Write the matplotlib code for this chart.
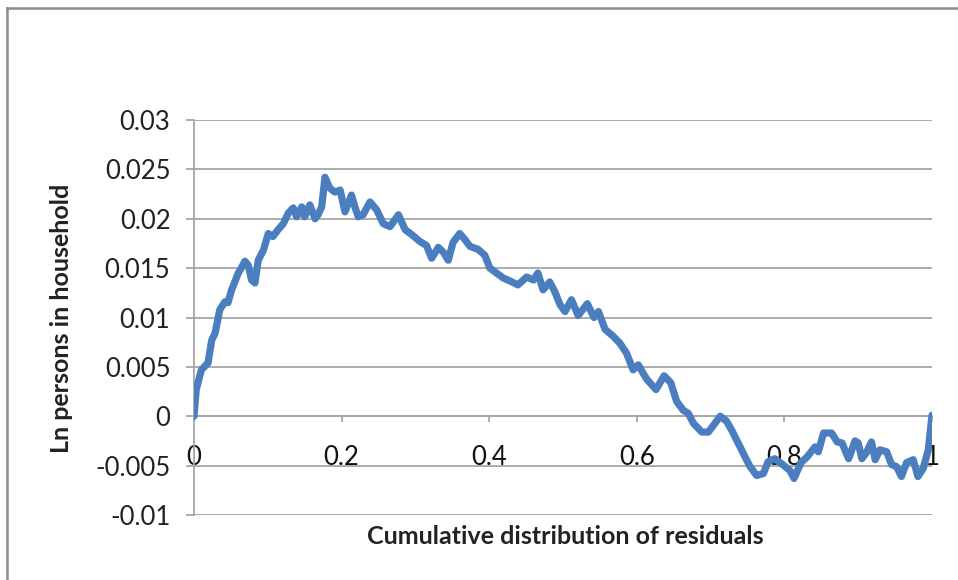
import matplotlib
matplotlib.use("Agg")
import matplotlib.pyplot as plt
from matplotlib.lines import Line2D

# values
resid_cdf = [0, 0.003, 0.010, 0.019, 0.024, 0.0285, 0.035, 0.042, 0.046, 0.051,
             0.060, 0.064, 0.069, 0.0735, 0.078, 0.0826, 0.087, 0.094, 0.1007, 0.107,
             0.114, 0.121, 0.128, 0.1345, 0.139, 0.146, 0.150, 0.157, 0.164, 0.168,
             0.173, 0.1775, 0.184, 0.191, 0.198, 0.2046, 0.2134, 0.218, 0.2226, 0.229,
             0.2385, 0.2475, 0.2565, 0.2656, 0.277, 0.286, 0.295, 0.306, 0.315, 0.322,
             0.331, 0.338, 0.3445, 0.351, 0.360, 0.367, 0.374, 0.385, 0.394, 0.401,
             0.410, 0.419, 0.428, 0.439, 0.4507, 0.46, 0.466, 0.473, 0.482, 0.489,
             0.496, 0.5027, 0.5115, 0.5206, 0.533, 0.542, 0.548, 0.557, 0.568, 0.577,
             0.586, 0.595, 0.602, 0.613, 0.626, 0.637, 0.646, 0.654, 0.663, 0.6697,
             0.6766, 0.688, 0.697, 0.706, 0.713, 0.7216, 0.7285, 0.7398, 0.7466, 0.7534,
             0.7625, 0.7715, 0.778, 0.787, 0.796, 0.8076, 0.813, 0.8225, 0.831, 0.8415,
             0.846, 0.853, 0.864, 0.8715, 0.878, 0.887, 0.8957, 0.900, 0.905, 0.911,
             0.918, 0.923, 0.9295, 0.9385, 0.9453, 0.952, 0.9586, 0.9655, 0.9745, 0.981,
             0.988, 0.995, 1.0]
ln_persons = [0, 0.0027, 0.0047, 0.0054, 0.0077, 0.0084, 0.0108, 0.0116, 0.0115, 0.0128,
              0.0145, 0.0150, 0.0157, 0.0153, 0.0138, 0.0135, 0.0158, 0.0168, 0.0185, 0.0182,
              0.0189, 0.0195, 0.0206, 0.0211, 0.0202, 0.0212, 0.0202, 0.0214, 0.0200, 0.0204,
              0.0212, 0.0242, 0.0231, 0.0227, 0.0229, 0.0207, 0.0224, 0.0212, 0.0202, 0.0204,
              0.0217, 0.0209, 0.0195, 0.0192, 0.0204, 0.0189, 0.0184, 0.0177, 0.0173, 0.0160,
              0.0171, 0.0166, 0.0158, 0.0176, 0.0185, 0.0179, 0.0172, 0.0169, 0.0163, 0.0150,
              0.0145, 0.0140, 0.0137, 0.0133, 0.0141, 0.0138, 0.0145, 0.0128, 0.0136, 0.0126,
              0.0113, 0.0106, 0.0118, 0.0102, 0.0114, 0.0100, 0.0106, 0.0088, 0.0081, 0.0074,
              0.0064, 0.0047, 0.0052, 0.0038, 0.0027, 0.0041, 0.0034, 0.0015, 0.0006, 0.0003,
              -0.0007, -0.0016, -0.0016, -0.0007, 0.0000, -0.0005, -0.0014, -0.0031, -0.0041, -0.0051,
              -0.0060, -0.0058, -0.0046, -0.0043, -0.0048, -0.0055, -0.0063, -0.0047, -0.0041, -0.0031,
              -0.0036, -0.0017, -0.0017, -0.0026, -0.0027, -0.0043, -0.0025, -0.0027, -0.0043, -0.0037,
              -0.0026, -0.0044, -0.0034, -0.0036, -0.0049, -0.0051, -0.0061, -0.0047, -0.0044, -0.0061,
              -0.0053, -0.0034, 0.0001]

y_ticks = [0.03, 0.025, 0.02, 0.015, 0.01, 0.005, 0, -0.005, -0.01]
y_tick_labels = ["0.03", "0.025", "0.02", "0.015", "0.01", "0.005", "0", "-0.005", "-0.01"]
x_ticks = [0, 0.2, 0.4, 0.6, 0.8, 1]
x_tick_labels = ["0", "0.2", "0.4", "0.6", "0.8", "1"]

plt.rcParams['font.family'] = ['Lato', 'DejaVu Sans']

fig = plt.figure(figsize=(9.58, 5.8), dpi=100)
ax = fig.add_axes([194 / 958, 1 - 515 / 580, (932 - 194) / 958, (515 - 120) / 580])

grid_col = "#a6a6a6"
ax.set_xlim(0, 1)
ax.set_ylim(-0.01, 0.03)
for yv in y_ticks:
    ax.axhline(yv, color=grid_col, lw=1.3, zorder=1)

ax.plot(resid_cdf, ln_persons, color="#4a7ebf", lw=5.2, solid_joinstyle="round",
        solid_capstyle="round", zorder=3)

for side in ["top", "right"]:
    ax.spines[side].set_visible(False)
ax.spines["left"].set_color(grid_col)
ax.spines["left"].set_linewidth(1.3)
ax.spines["bottom"].set_position(("data", 0))
ax.spines["bottom"].set_color(grid_col)
ax.spines["bottom"].set_linewidth(1.3)

ax.set_yticks(y_ticks)
ax.set_yticklabels(y_tick_labels)
ax.set_xticks(x_ticks)
ax.set_xticklabels(x_tick_labels)
ax.tick_params(axis="y", direction="out", length=6, width=1.3, color=grid_col,
               pad=11, labelsize=18.5, labelcolor="#222222")
ax.tick_params(axis="x", direction="out", length=4.5, width=1.3, color=grid_col,
               pad=16, labelsize=18.5, labelcolor="#111111")

fig.text(565 / 958, 1 - 537 / 580, "Cumulative distribution of residuals",
         ha="center", va="center", fontsize=18, fontweight="bold", color="#222222")
fig.text(62 / 958, 1 - 318 / 580, "Ln persons in household", rotation=90,
         ha="center", va="center", fontsize=18, fontweight="bold", color="#222222")

# outer chart border (only top and left edges show in the reference)
fig.add_artist(Line2D([7 / 958, 1], [1 - 8 / 580, 1 - 8 / 580], color="#8c8c8c", lw=1.8))
fig.add_artist(Line2D([7 / 958, 7 / 958], [0, 1 - 8 / 580], color="#8c8c8c", lw=1.8))

fig.savefig("out.png", dpi=100)
